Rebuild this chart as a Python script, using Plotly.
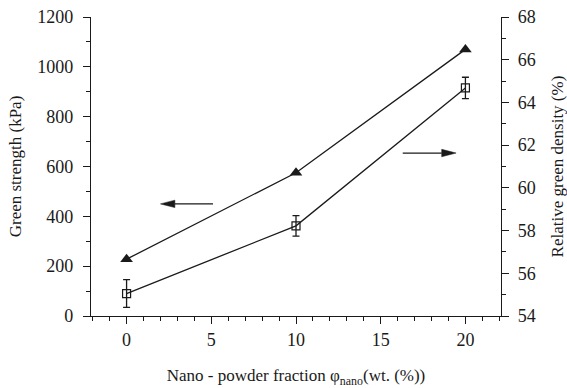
import plotly.graph_objects as go

# Nano-powder fraction (wt.%)
fraction = [0, 10, 20]
# Green strength (kPa), left axis
strength = [228, 575, 1070]
# Relative green density (%), right axis, with error bars
density = [55.05, 58.22, 64.68]
density_err = [0.65, 0.48, 0.5]

FONT = "Liberation Serif"
INK = "#1a1a1a"

fig = go.Figure()

fig.add_trace(go.Scatter(
    x=fraction, y=strength, mode="lines+markers",
    line=dict(color=INK, width=1.3),
    marker=dict(symbol="triangle-up", size=11, color=INK),
    showlegend=False,
))

fig.add_trace(go.Scatter(
    x=fraction, y=density, mode="lines+markers", yaxis="y2",
    line=dict(color=INK, width=1.3),
    marker=dict(symbol="square-open", size=8, color=INK, line=dict(width=1.2)),
    error_y=dict(type="data", array=density_err, color=INK, thickness=1.3, width=3.5),
    showlegend=False,
))


def axis_arrow(tail_x, tip_x, y, head_len=0.85, head_half=15):
    """Horizontal arrow in left-axis data units: shaft line plus filled head."""
    direction = 1 if tip_x > tail_x else -1
    base_x = tip_x - direction * head_len
    fig.add_shape(type="line", xref="x", yref="y", x0=tail_x, x1=base_x, y0=y, y1=y,
                  line=dict(color=INK, width=1.3))
    fig.add_shape(type="path", xref="x", yref="y",
                  path=f"M {tip_x},{y} L {base_x},{y + head_half} L {base_x},{y - head_half} Z",
                  fillcolor=INK, line=dict(color=INK, width=0.5))


# Arrows pointing each curve to its axis
axis_arrow(5.1, 2.0, 450)
axis_arrow(16.3, 19.45, 654)

axis_common = dict(
    showgrid=False, zeroline=False, showline=True, linecolor=INK, linewidth=1.2,
    ticks="outside", ticklen=7, tickwidth=1.2, tickcolor=INK, automargin=False,
    tickfont=dict(family=FONT, size=18, color=INK),
)

fig.update_layout(
    width=567, height=388,
    margin=dict(l=91, r=66, t=17, b=72),
    paper_bgcolor="white", plot_bgcolor="white",
    font=dict(family=FONT, color=INK),
    xaxis=dict(
        **axis_common, range=[-2.1, 22.1], tick0=0, dtick=5,
        minor=dict(dtick=1, ticks="outside", ticklen=4, tickcolor=INK, tickwidth=1),
        title=dict(text="Nano - powder fraction φ<sub>nano</sub>(wt. (%))",
                   font=dict(family=FONT, size=17, color=INK), standoff=23),
    ),
    yaxis=dict(
        **axis_common, range=[0, 1200], dtick=200, ticklabelstandoff=6,
        minor=dict(dtick=100, ticks="outside", ticklen=4, tickcolor=INK, tickwidth=1),
        title=dict(text="Green strength (kPa)",
                   font=dict(family=FONT, size=17, color=INK), standoff=11),
    ),
    yaxis2=dict(
        **axis_common, overlaying="y", side="right", range=[54, 68], dtick=2,
        ticklabelstandoff=5,
        minor=dict(dtick=1, ticks="outside", ticklen=4, tickcolor=INK, tickwidth=1),
        title=dict(text="Relative green density (%)",
                   font=dict(family=FONT, size=17, color=INK), standoff=17),
    ),
)

fig.write_html("out.html")
